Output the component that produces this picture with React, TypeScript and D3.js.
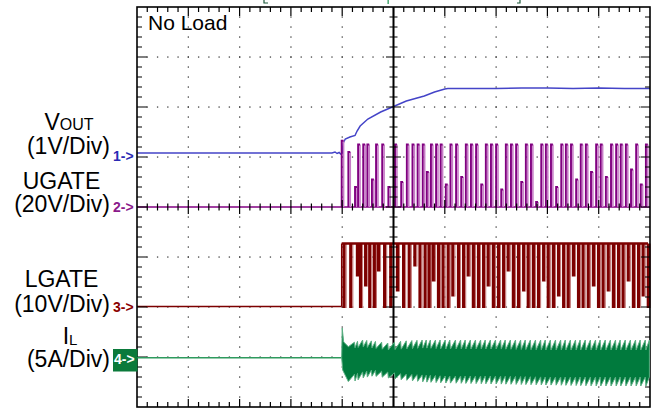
import React from 'react';
import * as d3 from 'd3';

// ---- data (time in divisions 0..10) ----
const voutT = [0, 3.80, 3.86, 3.90, 3.94, 3.97, 4.00, 4.02, 4.06, 4.15, 4.25, 4.29, 4.35, 4.50, 4.75, 5.00, 5.25, 5.46, 5.60, 5.80, 6.00, 6.06, 6.30, 7.00, 7.50, 8.00, 8.50, 9.00, 9.50, 10.0];
const voutV = [0.06, 0.06, 0.08, 0.05, 0.07, 0.04, 0.06, 0.26, 0.34, 0.38, 0.41, 0.50, 0.60, 0.74, 0.88, 0.99, 1.10, 1.16, 1.20, 1.28, 1.34, 1.35, 1.35, 1.35, 1.36, 1.36, 1.35, 1.36, 1.35, 1.35];

const pulseT = [
  3.99, 4.12, 4.25, 4.31, 4.41, 4.49, 4.58, 4.66, 4.78, 4.90,
  5.03, 5.15, 5.26, 5.37, 5.47, 5.57, 5.65, 5.73, 5.83, 5.92,
  6.02, 6.11, 6.22, 6.32, 6.41, 6.51, 6.61, 6.71, 6.80, 6.90,
  7.00, 7.10, 7.19, 7.29, 7.39, 7.49, 7.58, 7.68, 7.78, 7.88,
  7.97, 8.07, 8.17, 8.27, 8.36, 8.46, 8.56, 8.65, 8.75, 8.85,
  8.95, 9.04, 9.14, 9.24, 9.34, 9.43, 9.53, 9.63, 9.73, 9.82,
  9.92,
];
const ugateHigh = [
  26.5, 22, 8, 25, 25, 25, 11, 25, 25, 8,
  25, 10, 25, 25, 25, 25, 14, 25, 25, 25,
  9, 25, 25, 12, 25, 25, 25, 9, 25, 25,
  25, 7, 25, 25, 25, 10, 25, 25, 2, 25,
  25, 25, 8, 25, 25, 25, 11, 25, 25, 14,
  25, 25, 12, 25, 25, 25, 25, 15, 25, 9,
  25,
];
const lgateLow = [
  -0.3, -0.3, 6, -0.3, 4, -0.3, -0.3, 7, -0.3, -0.3,
  3, -0.3, -0.3, 8, -0.3, -0.3, -0.3, 5, -0.3, -0.3,
  -0.3, 2, -0.3, -0.3, 6, -0.3, -0.3, -0.3, 4, -0.3,
  -0.3, -0.3, 7, -0.3, -0.3, 3, -0.3, -0.3, -0.3, 5,
  -0.3, -0.3, 2, -0.3, -0.3, 6, -0.3, -0.3, -0.3, 4,
  -0.3, -0.3, 3, -0.3, -0.3, -0.3, 5, -0.3, -0.3, 2,
  -0.3,
];
const lgateHighV = 12.6;

const ilT = [4.02, 4.2, 4.4, 4.6, 4.9, 5.2, 5.6, 6.0, 7.0, 8.0, 9.0, 10.0];
const ilTopTip = [1.8, 1.5, 1.8, 1.7, 1.5, 1.7, 1.8, 1.8, 1.8, 1.8, 1.8, 1.8];
const ilTopVal = [1.3, 1.0, 1.1, 1.0, 0.8, 0.9, 1.0, 0.9, 0.9, 0.8, 0.8, 0.8];
const ilBotVal = [-1.4, -1.7, -1.4, -1.2, -1.4, -1.6, -1.7, -1.8, -1.8, -1.9, -1.9, -1.9];
const ilBotTip = [-2.3, -2.4, -2.0, -1.8, -2.0, -2.2, -2.4, -2.5, -2.6, -2.7, -2.8, -2.8];
const ilSpike = 3.0;
const ilSpikeLow = -1.2;

// ---- layout ----
const W = 660, H = 411;
const X0 = 137, X1 = 650, Y0 = 7, Y1 = 407;
const FONT = '"Liberation Sans", Arial, Helvetica, sans-serif';

const x = d3.scaleLinear().domain([0, 10]).range([X0, X1]);
const y1 = d3.scaleLinear().domain([0, 1]).range([156, 106]);     // 1V/div
const y2 = d3.scaleLinear().domain([0, 20]).range([207, 157]);    // 20V/div
const y3 = d3.scaleLinear().domain([0, 10]).range([306.5, 256.5]); // 10V/div
const y4 = d3.scaleLinear().domain([0, 5]).range([358, 308]);     // 5A/div

const C1 = '#4444c8', C2 = '#800080', C2L = '#c77cc7', C3 = '#7d0000', C3L = '#c07272', C4 = '#007a3d', C4L = '#5aae82';

export default function App() {
  const dx = (X1 - X0) / 50;
  const dy = (Y1 - Y0) / 40;
  const Xc = x(5), Yc = (Y0 + Y1) / 2;

  const dots: JSX.Element[] = [];
  for (let k = 1; k < 10; k++) {
    if (k === 5) continue;
    const gx = x(k);
    for (let j = 1; j < 40; j++) dots.push(<rect key={`v${k}-${j}`} x={gx - 0.6} y={Y0 + j * dy - 0.6} width={1.3} height={1.3} fill="#444" />);
  }
  for (let k = 1; k < 8; k++) {
    if (k === 4) continue;
    const gy = Y0 + k * 50;
    for (let j = 1; j < 50; j++) dots.push(<rect key={`h${k}-${j}`} x={X0 + j * dx - 0.6} y={gy - 0.6} width={1.3} height={1.3} fill="#444" />);
  }

  const ticks: string[] = [];
  for (let j = 1; j < 50; j++) {
    const tx = X0 + j * dx;
    const maj = j % 5 === 0;
    ticks.push(`M${tx},${Y0}V${Y0 + (maj ? 9 : 5)}`);
    ticks.push(`M${tx},${Y1}V${Y1 - (maj ? 8 : 5)}`);
    ticks.push(`M${tx},${Yc - (maj ? 7 : 3.5)}V${Yc + (maj ? 7 : 3.5)}`);
  }
  for (let j = 1; j < 40; j++) {
    const ty = Y0 + j * dy;
    const maj = j % 5 === 0;
    ticks.push(`M${X0},${ty}H${X0 + (maj ? 10 : 5)}`);
    ticks.push(`M${X1},${ty}H${X1 - (maj ? 9 : 5)}`);
    ticks.push(`M${Xc - (maj ? 7.5 : 4)},${ty}H${Xc + (maj ? 7.5 : 4)}`);
  }

  const voutLine = d3.line<number>().x((_, i) => x(voutT[i])).y((v) => y1(v))(voutV) || '';

  const ugRise: string[] = [], ugFall: string[] = [];
  pulseT.forEach((t, i) => {
    const h = ugateHigh[i];
    const xa = x(t), xb = x(t) + 1.9;
    ugRise.push(`M${xa},${y2(0)}V${y2(h)}H${xb}`);
    ugFall.push(`M${xb},${y2(h)}V${y2(0)}`);
  });

  const lgBars = pulseT.map((t, i) => ({ xa: x(t) + 0.8, top: y3(lgateHighV), bot: y3(lgateLow[i]), w: 3.2 }));

  const sTopTip = d3.scaleLinear().domain(ilT).range(ilTopTip).clamp(true);
  const sTopVal = d3.scaleLinear().domain(ilT).range(ilTopVal).clamp(true);
  const sBotVal = d3.scaleLinear().domain(ilT).range(ilBotVal).clamp(true);
  const sBotTip = d3.scaleLinear().domain(ilT).range(ilBotTip).clamp(true);
  const upper: [number, number][] = [];
  const lower: [number, number][] = [];
  const t0 = pulseT[0];
  upper.push([x(t0), y4(0)]);
  upper.push([x(t0) + 0.5, y4(ilSpike)]);
  upper.push([x(t0) + 2, y4(sTopVal(4.02) + 0.3)]);
  lower.push([x(t0), y4(0)]);
  lower.push([x(t0) + 1, y4(ilSpikeLow)]);
  for (let k = 1; k < pulseT.length; k++) {
    const t = pulseT[k];
    const tn = k + 1 < pulseT.length ? pulseT[k + 1] : 10;
    upper.push([x(t), y4(sTopVal(t))]);
    upper.push([x(tn) - 0.6, y4(sTopTip(tn))]);
    lower.push([x(t), y4(sBotTip(t))]);
    lower.push([x(tn) - 0.6, y4(sBotVal(tn))]);
  }
  const ilPoly = [...upper, ...lower.reverse()];
  const ilPath = 'M' + ilPoly.map((p) => `${p[0]},${p[1]}`).join('L') + 'Z';

  return (
    <svg width={W} height={H} style={{ position: 'absolute', left: 0, top: 0, background: '#fff' }} fontFamily={FONT}>
      <rect x={0} y={0} width={W} height={H} fill="#fff" />
      {/* remnants of cut-off marks at the top edge */}
      <path d="M264,0V3H268M520,0V3H517" stroke="#1f5a3c" strokeWidth={1.2} fill="none" />
      <rect x={387.5} y={0} width={1.3} height={4} fill="#2e9a5e" />

      {dots}

      <path d={voutLine} fill="none" stroke={C1} strokeWidth={1.5} />

      <line x1={X0} x2={X1} y1={y2(0)} y2={y2(0)} stroke={C2} strokeWidth={1.7} />
      <path d={ugFall.join('')} fill="none" stroke={C2L} strokeWidth={1.6} />
      <path d={ugRise.join('')} fill="none" stroke={C2} strokeWidth={1.9} />

      <line x1={X0} x2={x(pulseT[0])} y1={y3(0)} y2={y3(0)} stroke={C3} strokeWidth={1.5} />
      <line x1={x(pulseT[0])} x2={x(pulseT[0])} y1={y3(0)} y2={y3(lgateHighV)} stroke={C3} strokeWidth={1.5} />
      {lgBars.map((b, i) => (
        <g key={`lg${i}`}>
          <rect x={b.xa} y={b.top} width={b.w} height={b.bot - b.top} fill={C3} />
          <line x1={b.xa + b.w + 0.5} x2={b.xa + b.w + 0.5} y1={b.top} y2={b.bot} stroke={C3L} strokeWidth={1} />
        </g>
      ))}
      <line x1={x(pulseT[0])} x2={X1 - 2} y1={y3(lgateHighV)} y2={y3(lgateHighV)} stroke={C3} strokeWidth={2.5} />

      <path d={ticks.join('')} stroke="#000" strokeWidth={1.2} fill="none" />
      <line x1={Xc} x2={Xc} y1={Y0} y2={Y1} stroke="#000" strokeWidth={2} />
      <rect x={X0} y={Y0} width={X1 - X0} height={Y1 - Y0} fill="none" stroke="#000" strokeWidth={1.6} />

      <line x1={X0} x2={x(pulseT[0])} y1={y4(0.03)} y2={y4(0.03)} stroke="#2e9a5e" strokeWidth={1.6} />
      <path d={ilPath} fill={C4} stroke={C4L} strokeWidth={1} strokeLinejoin="miter" />

      <text x={148} y={30} fontSize={21} fill="#000">No Load</text>
      <g fontSize={23} fill="#000">
        <text x={69} y={130} textAnchor="middle">V<tspan fontSize={16}>OUT</tspan></text>
        <text x={110} y={154} textAnchor="end">(1V/Div)</text>
        <text x={61.5} y={189} textAnchor="middle">UGATE</text>
        <text x={110} y={212} textAnchor="end">(20V/Div)</text>
        <text x={61.5} y={287} textAnchor="middle">LGATE</text>
        <text x={110} y={312} textAnchor="end">(10V/Div)</text>
        <text x={70} y={344} textAnchor="middle">I<tspan fontSize={15} dy={1}>L</tspan></text>
        <text x={110} y={367} textAnchor="end">(5A/Div)</text>
      </g>
      <g fontSize={14} fontWeight="bold">
        <text x={113} y={161} fill="#2a2ab4">1-&gt;</text>
        <text x={113} y={212} fill="#8b1a8b">2-&gt;</text>
        <text x={113} y={312} fill="#8b0000">3-&gt;</text>
        <rect x={113} y={349} width={24.5} height={22.5} fill="#0b7a3b" />
        <text x={114} y={364} fill="#fff">4-&gt;</text>
      </g>
    </svg>
  );
}
